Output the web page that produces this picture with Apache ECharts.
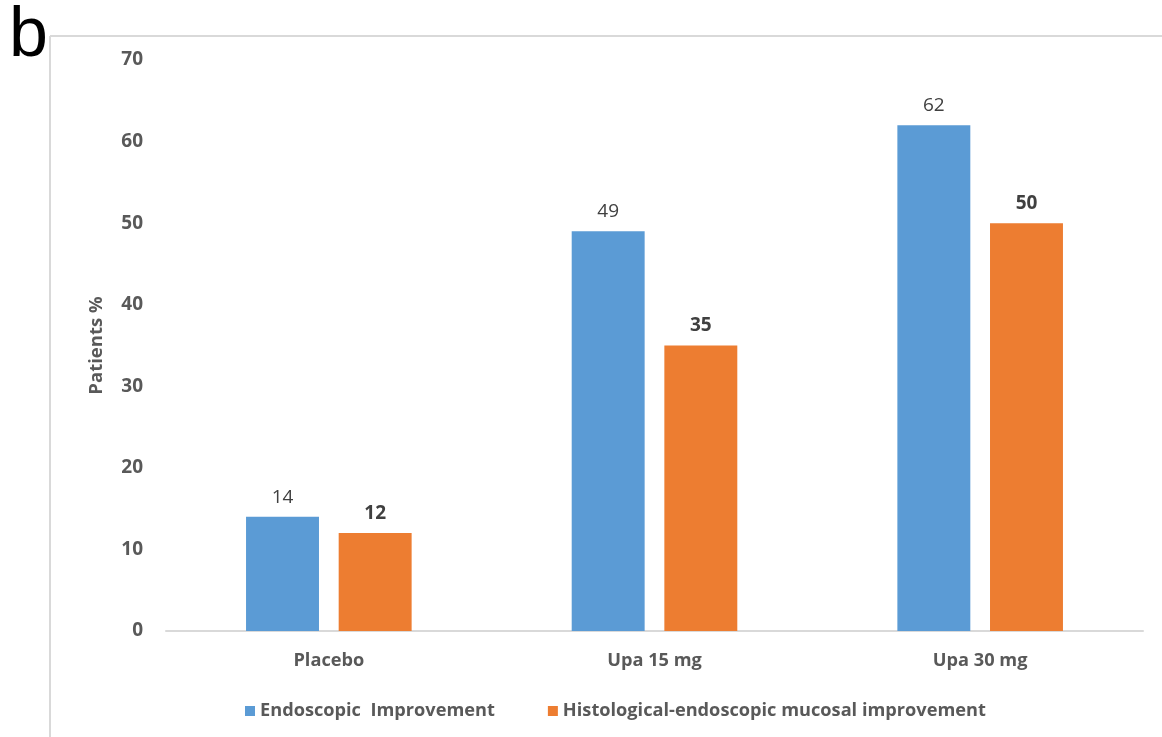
<!DOCTYPE html>
<html><head><meta charset="utf-8">
<script src="https://cdn.jsdelivr.net/npm/echarts@6/dist/echarts.min.js"></script>
<style>html,body{margin:0;padding:0;background:#fff}#c{width:1162px;height:737px}</style>
</head><body><div id="c"></div>
<script>
const categories = ['Placebo', 'Upa 15 mg', 'Upa 30 mg'];
const endoscopic = [14, 49, 62];
const histological = [12, 35, 50];
const seriesNames = ['Endoscopic  Improvement', 'Histological-endoscopic mucosal improvement'];
const yTicks = [0, 10, 20, 30, 40, 50, 60, 70];

const FONT = '"Open Sans", sans-serif';
const chart = echarts.init(document.getElementById('c'), null, {renderer: 'canvas'});
chart.setOption({
  animation: false,
  backgroundColor: '#fff',
  title: {
    text: 'b', left: 4, top: -3,
    textStyle: {fontFamily: '"Liberation Sans", Arial, sans-serif', fontSize: 70, fontWeight: 'normal', color: '#000'}
  },
  graphic: [
    {type: 'line', shape: {x1: 50, y1: 36, x2: 1162, y2: 36}, style: {stroke: '#d9d9d9', lineWidth: 2}},
    {type: 'line', shape: {x1: 50, y1: 36, x2: 50, y2: 737}, style: {stroke: '#d9d9d9', lineWidth: 2}}
  ],
  grid: {left: 166, right: 19, top: 60, bottom: 106, containLabel: false},
  legend: {
    left: 240, bottom: 12, icon: 'rect', itemWidth: 10, itemHeight: 10, itemGap: 53,
    textStyle: {fontFamily: FONT, fontSize: 18.2, fontWeight: 'bold', color: '#595959'},
    data: seriesNames
  },
  xAxis: {
    type: 'category', data: categories,
    axisLine: {lineStyle: {color: '#d9d9d9', width: 2}},
    axisTick: {show: false},
    axisLabel: {fontFamily: FONT, fontSize: 18.2, fontWeight: 'bold', color: '#595959', margin: 21}
  },
  yAxis: {
    type: 'value', min: 0, max: 70, interval: 10,
    name: 'Patients %', nameLocation: 'middle', nameGap: 60, nameRotate: 90,
    nameTextStyle: {fontFamily: FONT, fontSize: 18.5, fontWeight: 'bold', color: '#595959'},
    axisLine: {show: false}, axisTick: {show: false}, splitLine: {show: false},
    axisLabel: {fontFamily: FONT, fontSize: 19, fontWeight: 'bold', color: '#595959', margin: 23,
      formatter: v => yTicks.includes(v) ? String(v) : ''}
  },
  series: [
    {
      name: seriesNames[0], type: 'bar', data: endoscopic, barWidth: '22.4%', barGap: '27%',
      itemStyle: {color: '#5B9BD5'},
      label: {show: true, position: 'top', distance: 10, fontFamily: FONT, fontSize: 19, fontWeight: 'normal', color: '#404040'}
    },
    {
      name: seriesNames[1], type: 'bar', data: histological, barWidth: '22.4%', barGap: '27%',
      itemStyle: {color: '#ED7D31'},
      label: {show: true, position: 'top', distance: 10, fontFamily: FONT, fontSize: 19, fontWeight: 'bold', color: '#404040'}
    }
  ]
});
</script></body></html>
